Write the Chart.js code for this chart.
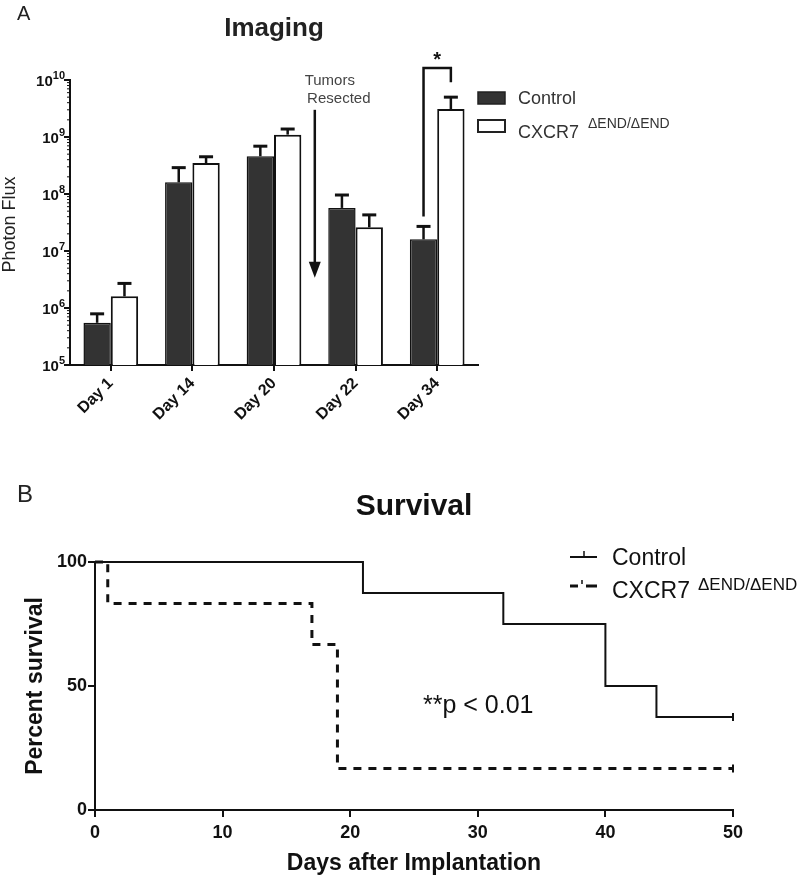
<!DOCTYPE html>
<html>
<head>
<meta charset="utf-8">
<script src="https://cdn.jsdelivr.net/npm/chart.js@4.4.1/dist/chart.umd.min.js"></script>
<style>
    body { margin: 0; background: #fff; }
    #wrap { position: relative; width: 800px; height: 881px; }
    canvas { position: absolute; left: 0; }
    #imaging { top: 0; width: 800px; height: 440px; }
    #survival { top: 440px; width: 800px; height: 441px; }
</style>
</head>
<body>
<div id="wrap">
    <canvas id="imaging" width="800" height="440"></canvas>
    <canvas id="survival" width="800" height="441"></canvas>
</div>
<script>
// Panel A - imaging (photon flux, log scale)
const days = ['Day 1', 'Day 14', 'Day 20', 'Day 22', 'Day 34'];
const controlFlux = [5.5e5, 1.6e8, 4.6e8, 5.7e7, 1.6e7];
const controlUpper = [7.9e5, 2.9e8, 6.9e8, 9.6e7, 2.7e7];   // top of error bar
const cxcrFlux = [1.6e6, 3.5e8, 1.1e9, 2.6e7, 3.1e9];
const cxcrUpper = [2.7e6, 4.5e8, 1.38e9, 4.3e7, 5.0e9];
const fluxTicks = [1e5, 1e6, 1e7, 1e8, 1e9, 1e10];

// Panel B - survival
const controlDays = [0, 21, 32, 40, 44, 50];
const controlSurv = [100, 87.5, 75, 50, 37.5, 37.5];
const cxcrDays = [0, 1, 17, 19, 50];
const cxcrSurv = [100, 83.3, 66.7, 16.7, 16.7];
const dayTicks = [0, 10, 20, 30, 40, 50];
const survTicks = [0, 50, 100];

const FONT = "'Liberation Sans', Arial, Helvetica, sans-serif";
const SUP = '\u0394END/\u0394END';

function text(ctx, s, x, y, font, color, align, base) {
    ctx.save();
    ctx.font = font;
    ctx.fillStyle = color || '#222';
    ctx.textAlign = align || 'left';
    ctx.textBaseline = base || 'alphabetic';
    ctx.fillText(s, x, y);
    ctx.restore();
}

function line(ctx, pts, w, color, dash) {
    ctx.save();
    ctx.beginPath();
    ctx.lineWidth = w;
    ctx.strokeStyle = color || '#111';
    ctx.setLineDash(dash || []);
    pts.forEach((p, i) => i ? ctx.lineTo(p[0], p[1]) : ctx.moveTo(p[0], p[1]));
    ctx.stroke();
    ctx.restore();
}

const imagingDecor = {
    id: 'imagingDecor',
    afterDatasetsDraw(chart) {
        const ctx = chart.ctx;
        const y = chart.scales.y;
        [controlUpper, cxcrUpper].forEach((ups, di) => {
            chart.getDatasetMeta(di).data.forEach((bar, i) => {
                const yt = y.getPixelForValue(ups[i]);
                line(ctx, [[bar.x, bar.y], [bar.x, yt]], 2.5);
                line(ctx, [[bar.x - 7, yt], [bar.x + 7, yt]], 3);
            });
        });
    },
    afterDraw(chart) {
        const ctx = chart.ctx;
        const x = chart.scales.x, y = chart.scales.y;
        const left = chart.chartArea.left;

        // minor log ticks
        for (let d = 5; d < 10; d++) {
            for (let m = 2; m < 10; m++) {
                const py = y.getPixelForValue(m * Math.pow(10, d));
                line(ctx, [[left - 3, py], [left, py]], 1);
            }
        }
        // y tick labels 10^n
        fluxTicks.forEach(v => {
            const py = y.getPixelForValue(v);
            const exp = String(Math.round(Math.log10(v)));
            ctx.font = 'bold 11px ' + FONT;
            const ew = ctx.measureText(exp).width;
            text(ctx, exp, 65, py - 1, 'bold 11px ' + FONT, '#111', 'right');
            text(ctx, '10', 65 - ew, py + 6, 'bold 15px ' + FONT, '#111', 'right');
        });

        text(ctx, 'A', 17, 20, '20px ' + FONT, '#222');
        text(ctx, 'Imaging', x.getPixelForValue(2), 36, 'bold 26px ' + FONT, '#222', 'center');

        // y axis title
        ctx.save();
        ctx.translate(15, (chart.chartArea.top + chart.chartArea.bottom) / 2 + 2);
        ctx.rotate(-Math.PI / 2);
        text(ctx, 'Photon Flux', 0, 0, '18px ' + FONT, '#222', 'center');
        ctx.restore();

        // "Tumors Resected" arrow between Day 20 and Day 22
        const ax = (x.getPixelForValue(2) + x.getPixelForValue(3)) / 2;
        text(ctx, 'Tumors', ax + 15, 85, '15px ' + FONT, '#444', 'center');
        text(ctx, 'Resected', ax + 24, 103, '15px ' + FONT, '#444', 'center');
        const a0 = y.getPixelForValue(3e9), a1 = y.getPixelForValue(3.4e6);
        line(ctx, [[ax, a0], [ax, a1 - 12]], 2.5);
        ctx.beginPath();
        ctx.moveTo(ax - 6, a1 - 16);
        ctx.lineTo(ax + 6, a1 - 16);
        ctx.lineTo(ax, a1);
        ctx.closePath();
        ctx.fillStyle = '#111';
        ctx.fill();

        // significance bracket on Day 34
        const bc = chart.getDatasetMeta(0).data[4], bx = chart.getDatasetMeta(1).data[4];
        const top = y.getPixelForValue(1e10) - 12;
        line(ctx, [[bc.x, y.getPixelForValue(controlUpper[4]) - 10], [bc.x, top], [bx.x, top],
            [bx.x, y.getPixelForValue(cxcrUpper[4]) - 15]], 2.5);
        text(ctx, '*', (bc.x + bx.x) / 2, 66, 'bold 20px ' + FONT, '#111', 'center');

        // legend
        ctx.save();
        ctx.lineWidth = 1.5;
        ctx.strokeStyle = '#222';
        ctx.fillStyle = '#333';
        ctx.fillRect(478, 92, 27, 12);
        ctx.strokeRect(478, 92, 27, 12);
        ctx.fillStyle = '#fff';
        ctx.lineWidth = 2;
        ctx.fillRect(478, 120, 27, 12);
        ctx.strokeRect(478, 120, 27, 12);
        ctx.restore();
        text(ctx, 'Control', 518, 104, '18px ' + FONT, '#333');
        text(ctx, 'CXCR7', 518, 138, '18px ' + FONT, '#333');
        text(ctx, SUP, 588, 128, '14px ' + FONT, '#333');
    }
};

new Chart(document.getElementById('imaging'), {
    type: 'bar',
    data: {
        labels: days,
        datasets: [
            { label: 'Control', data: controlFlux, backgroundColor: '#333333', borderColor: '#111', borderWidth: 1.5 },
            { label: 'CXCR7', data: cxcrFlux, backgroundColor: '#ffffff', borderColor: '#111', borderWidth: 2 }
        ]
    },
    options: {
        responsive: false,
        animation: false,
        categoryPercentage: 0.67,
        barPercentage: 1,
        layout: { padding: { left: 0, top: 80, right: 322, bottom: 0 } },
        plugins: { legend: { display: false }, tooltip: { enabled: false } },
        scales: {
            x: {
                grid: { display: true, drawOnChartArea: false, offset: false, color: '#111', lineWidth: 2, tickLength: 6 },
                border: { color: '#111', width: 2 },
                ticks: { maxRotation: 45, minRotation: 45, padding: 3, color: '#111', font: { family: FONT, size: 16, weight: 'bold' } },
                afterFit: s => { s.height = 75; }
            },
            y: {
                type: 'logarithmic',
                min: 1e5,
                max: 1e10,
                grid: { display: true, drawOnChartArea: false, color: '#111', lineWidth: 2, tickLength: 6 },
                border: { color: '#111', width: 2 },
                ticks: { callback: () => '' },
                afterBuildTicks: s => { s.ticks = fluxTicks.map(v => ({ value: v })); },
                afterFit: s => { s.width = 70; }
            }
        }
    },
    plugins: [imagingDecor]
});

const survivalDecor = {
    id: 'survivalDecor',
    afterDraw(chart) {
        const ctx = chart.ctx;
        const area = chart.chartArea;
        text(ctx, 'B', 17, 62, '24px ' + FONT, '#222');
        text(ctx, 'Survival', (area.left + area.right) / 2, 75, 'bold 30px ' + FONT, '#111', 'center');
        text(ctx, 'Days after Implantation', (area.left + area.right) / 2, 430, 'bold 23px ' + FONT, '#111', 'center');
        ctx.save();
        ctx.translate(42, (area.top + area.bottom) / 2);
        ctx.rotate(-Math.PI / 2);
        text(ctx, 'Percent survival', 0, 0, 'bold 23px ' + FONT, '#111', 'center');
        ctx.restore();

        text(ctx, '**p < 0.01', 423, 273, '25px ' + FONT, '#111');

        // legend
        line(ctx, [[570, 117], [597, 117]], 2);
        line(ctx, [[584, 117], [584, 111]], 1.5);
        line(ctx, [[570, 146], [578, 146]], 3);
        line(ctx, [[586, 146], [597, 146]], 3);
        line(ctx, [[582, 144], [582, 140]], 1.5);
        text(ctx, 'Control', 612, 125, '23px ' + FONT, '#111');
        text(ctx, 'CXCR7', 612, 158, '23px ' + FONT, '#111');
        text(ctx, SUP, 698, 150, '17px ' + FONT, '#111');
    }
};

function pts(xs, ys) {
    return xs.map((d, i) => ({ x: d, y: ys[i] }));
}

new Chart(document.getElementById('survival'), {
    type: 'line',
    data: {
        datasets: [
            {
                label: 'Control',
                data: pts(controlDays, controlSurv),
                stepped: 'before',
                borderColor: '#111',
                borderWidth: 2,
                clip: false,
                pointStyle: 'line',
                rotation: 90,
                pointBorderColor: '#111',
                pointBorderWidth: 2,
                pointRadius: controlDays.map((d, i) => i === controlDays.length - 1 ? 4 : 0)
            },
            {
                label: 'CXCR7',
                data: pts(cxcrDays, cxcrSurv),
                stepped: 'before',
                borderColor: '#111',
                borderWidth: 3,
                borderDash: [8, 7],
                clip: false,
                pointStyle: 'line',
                rotation: 90,
                pointBorderColor: '#111',
                pointBorderWidth: 2,
                pointRadius: cxcrDays.map((d, i) => i === cxcrDays.length - 1 ? 4 : 0)
            }
        ]
    },
    options: {
        responsive: false,
        animation: false,
        layout: { padding: { left: 0, top: 122, right: 67, bottom: 0 } },
        plugins: { legend: { display: false }, tooltip: { enabled: false } },
        scales: {
            x: {
                type: 'linear',
                min: 0,
                max: 50,
                grid: { display: true, drawOnChartArea: false, color: '#111', lineWidth: 2, tickLength: 7 },
                border: { color: '#111', width: 2 },
                ticks: { padding: 5, color: '#111', font: { family: FONT, size: 18, weight: 'bold' } },
                afterBuildTicks: s => { s.ticks = dayTicks.map(v => ({ value: v })); },
                afterFit: s => { s.height = 71; }
            },
            y: {
                min: 0,
                max: 100,
                grid: { display: true, drawOnChartArea: false, color: '#111', lineWidth: 2, tickLength: 7 },
                border: { color: '#111', width: 2 },
                ticks: { padding: 1, color: '#111', font: { family: FONT, size: 18, weight: 'bold' } },
                afterBuildTicks: s => { s.ticks = survTicks.map(v => ({ value: v })); },
                afterFit: s => { s.width = 95; }
            }
        }
    },
    plugins: [survivalDecor]
});
</script>
</body>
</html>
